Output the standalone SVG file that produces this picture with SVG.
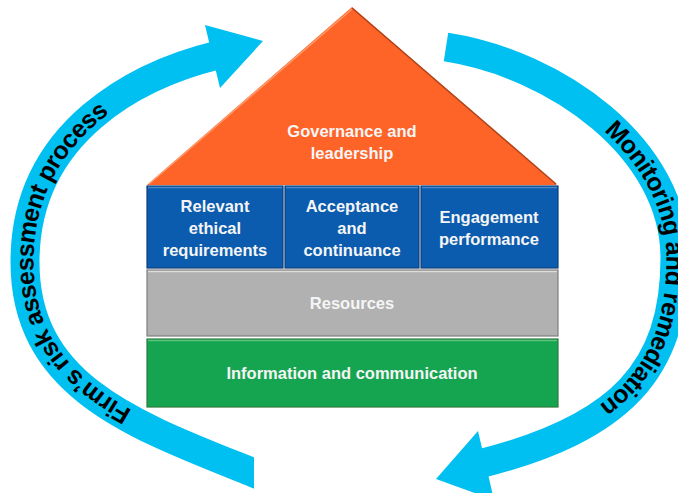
<svg xmlns="http://www.w3.org/2000/svg" xmlns:xlink="http://www.w3.org/1999/xlink" width="678" height="493" viewBox="0 0 678 493">
  <style>
    .band { fill: none; stroke: #00bff1; stroke-width: 29; stroke-linecap: butt; }
    .head { fill: #00bff1; }
    .arcText { font-family: "Liberation Sans", Arial, sans-serif; font-weight: bold; font-size: 25px; fill: #000; }
    .lbl { font-family: "Liberation Sans", Arial, sans-serif; font-weight: bold; font-size: 16.5px; fill: #f5f5f5; text-anchor: middle; }
    .blue { fill: #0b5cae; stroke: #0d3f78; stroke-width: 1.2; }
    .gray { fill: #b1b1b1; stroke: #7e7e7e; stroke-width: 1.2; }
    .green { fill: #15a550; stroke: #2c7a3c; stroke-width: 1.2; }
    .hl { fill: none; stroke-width: 1.5; }
  </style>
  <defs>
    <path id="leftArc" d="M 273.5 480.8 L 254 473 C 134 425, 25 387, 25 262 C 25 130, 140 74, 218 55"/>
    <path id="rightArc" d="M 446 47 C 556 64, 675 148, 675 258 C 675 370, 620 428, 483 463"/>
    <clipPath id="leftClip">
      <polygon points="0,0 340,0 340,430 254,430 254,493 0,493"/>
    </clipPath>
  </defs>

  <g id="connectors">
    <g id="risk-assessment-arrow">
      <use xlink:href="#leftArc" href="#leftArc" class="band" clip-path="url(#leftClip)"/>
      <polygon class="head" points="205,25 263,41 220,88"/>
      <text class="arcText" dy="8.5"><textPath xlink:href="#leftArc" href="#leftArc" startOffset="52.5%" text-anchor="middle">Firm’s risk assessment process</textPath></text>
    </g>
    <g id="monitoring-arrow">
      <use xlink:href="#rightArc" href="#rightArc" class="band"/>
      <polygon class="head" points="436,479 478,431 494,500"/>
      <text class="arcText" dy="8.5"><textPath xlink:href="#rightArc" href="#rightArc" startOffset="54%" text-anchor="middle">Monitoring and remediation</textPath></text>
    </g>
  </g>

  <g id="governance">
    <polygon points="147,185 352,7 557,185" fill="#fe6327"/>
    <polyline class="hl" points="149,184 352,9" stroke="#ff9a6a"/>
    <polyline class="hl" points="352,8 556,184" stroke="#b0431a"/>
    <text class="lbl" x="352" y="137">Governance and</text>
    <text class="lbl" x="352" y="159">leadership</text>
  </g>

  <g id="ethical">
    <rect class="blue" x="147" y="186" width="136" height="82"/>
    <line x1="148" y1="187.5" x2="282" y2="187.5" stroke="#4a86c8" stroke-width="1.5"/>
    <text class="lbl" x="215" y="212">Relevant</text>
    <text class="lbl" x="215" y="234">ethical</text>
    <text class="lbl" x="215" y="256">requirements</text>
  </g>

  <g id="acceptance">
    <rect class="blue" x="285" y="186" width="134" height="82"/>
    <line x1="286" y1="187.5" x2="418" y2="187.5" stroke="#4a86c8" stroke-width="1.5"/>
    <text class="lbl" x="352" y="212">Acceptance</text>
    <text class="lbl" x="352" y="234">and</text>
    <text class="lbl" x="352" y="256">continuance</text>
  </g>

  <g id="engagement">
    <rect class="blue" x="421" y="186" width="137" height="82"/>
    <line x1="422" y1="187.5" x2="557" y2="187.5" stroke="#4a86c8" stroke-width="1.5"/>
    <text class="lbl" x="489" y="223">Engagement</text>
    <text class="lbl" x="489" y="245">performance</text>
  </g>

  <g id="resources">
    <rect class="gray" x="147" y="270" width="411" height="66"/>
    <line x1="148" y1="271.5" x2="557" y2="271.5" stroke="#dcdcdc" stroke-width="1.5"/>
    <text class="lbl" x="352" y="309">Resources</text>
  </g>

  <g id="information">
    <rect class="green" x="147" y="339" width="411" height="68"/>
    <line x1="148" y1="340.5" x2="557" y2="340.5" stroke="#5cc47f" stroke-width="1.5"/>
    <text class="lbl" x="352" y="379">Information and communication</text>
  </g>
</svg>
